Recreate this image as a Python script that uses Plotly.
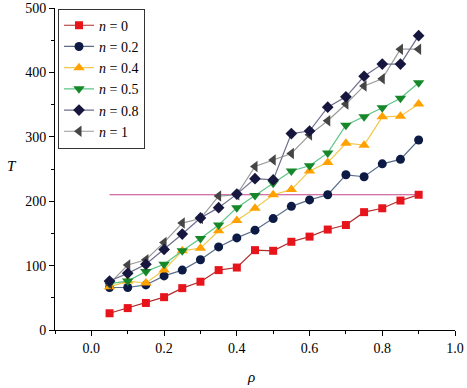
import plotly.graph_objects as go

rho = [0.05, 0.1, 0.15, 0.2, 0.25, 0.3, 0.35, 0.4, 0.45, 0.5, 0.55, 0.6, 0.65, 0.7, 0.75, 0.8, 0.85, 0.9]

T_n0 = [26, 34, 42, 51, 65, 75, 93, 97, 124, 123, 137, 145, 156, 163, 183, 189, 201, 210]
T_n02 = [66, 66, 70, 84, 93, 109, 129, 143, 155, 173, 192, 202, 210, 241, 238, 258, 265, 295]
T_n04 = [67, 76, 73, 93, 123, 127, 154, 170, 189, 210, 218, 247, 260, 290, 287, 331, 332, 351]
T_n05 = [72, 76, 91, 102, 123, 142, 163, 190, 209, 228, 247, 255, 275, 318, 331, 345, 360, 384]
T_n08 = [76, 88, 102, 125, 149, 174, 190, 211, 235, 233, 305, 309, 346, 362, 394, 413, 413, 457]
T_n1 = [72, 101, 109, 136, 166, 173, 208, 210, 254, 264, 274, 303, 325, 351, 379, 390, 436, 436]

ref_x = [0.05, 0.9]
ref_y = [210, 210]

labels = ["<i>n</i> = 0", "<i>n</i> = 0.2", "<i>n</i> = 0.4", "<i>n</i> = 0.5", "<i>n</i> = 0.8", "<i>n</i> = 1"]

FONT = "Liberation Serif, Times New Roman, serif"

fig = go.Figure()

fig.add_trace(go.Scatter(x=ref_x, y=ref_y, mode="lines",
                         line=dict(color="#c4448e", width=1.2), showlegend=False))

series = [
    (T_n0, labels[0], "#b22a2a", "#e8141c", "square", 8, 1),
    (T_n02, labels[1], "#5a6d8c", "#0c1a44", "circle", 9, 2),
    (T_n04, labels[2], "#f2c94c", "#ffa200", "triangle-up", 10, 3),
    (T_n05, labels[3], "#5cc486", "#16882a", "triangle-down", 10, 4),
    (T_n1, labels[5], "#9a9a9a", "#454545", "triangle-left", 10, 6),
    (T_n08, labels[4], "#6e6e8e", "#16163e", "diamond", 9, 5),
]

for ys, name, lc, mc, sym, sz, rank in series:
    fig.add_trace(go.Scatter(
        x=rho, y=ys, mode="lines+markers", name=name, legendrank=rank,
        line=dict(color=lc, width=1.2),
        marker=dict(color=mc, symbol=sym, size=sz, line=dict(width=0)),
    ))

axis_common = dict(showline=True, linecolor="black", linewidth=1, showgrid=False,
                   zeroline=False, tickcolor="black", tickwidth=1, automargin=False,
                   tickfont=dict(family=FONT, size=14, color="black"))

fig.update_layout(
    width=467, height=388,
    margin=dict(l=55, r=12, t=8, b=58),
    paper_bgcolor="white", plot_bgcolor="white",
    font=dict(family=FONT, size=14, color="black"),
    xaxis=dict(range=[-0.1, 1.0], tick0=0, dtick=0.2, tickformat=".1f",
               ticks="outside", ticklen=5,
               minor=dict(dtick=0.1, tick0=0, ticks="outside", ticklen=3, tickcolor="black"),
               **axis_common),
    yaxis=dict(range=[0, 500], dtick=100, ticks="outside", ticklen=5,
               minor=dict(dtick=50, ticks="outside", ticklen=3, tickcolor="black"),
               **axis_common),
    xaxis2=dict(range=[0, 10], dtick=1, overlaying="x", side="top", anchor="y",
                ticks="inside", ticklen=4, showticklabels=False, showline=True, automargin=False,
                linecolor="black", linewidth=1, showgrid=False, zeroline=False, tickcolor="black"),
    yaxis2=dict(range=[0, 10], dtick=1, overlaying="y", side="right", anchor="x",
                ticks="inside", ticklen=4, showticklabels=False, showline=True, automargin=False,
                linecolor="black", linewidth=1, showgrid=False, zeroline=False, tickcolor="black"),
    legend=dict(x=0.0075, y=0.998, xanchor="left", yanchor="top",
                bordercolor="#333333", borderwidth=1, bgcolor="white",
                font=dict(family=FONT, size=14, color="black"),
                tracegroupgap=0, itemwidth=30),
    annotations=[
        dict(text="<i>ρ</i>", xref="paper", yref="paper", x=0.49, y=-0.147,
             xanchor="center", yanchor="middle", showarrow=False,
             font=dict(family=FONT, size=15, color="black")),
        dict(text="<i>T</i>", xref="paper", yref="paper", x=-0.107, y=0.51,
             xanchor="center", yanchor="middle", showarrow=False,
             font=dict(family=FONT, size=15, color="black")),
    ],
)

fig.write_html("out.html", config={"displayModeBar": False},
               post_script="document.body.style.margin='0';document.body.style.overflow='hidden';")
